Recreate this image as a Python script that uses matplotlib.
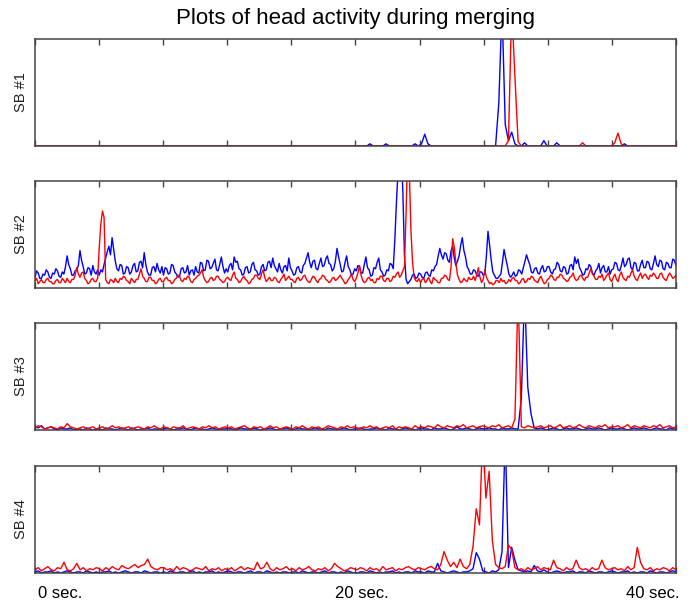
import numpy as np
import matplotlib
matplotlib.use("Agg")
import matplotlib.pyplot as plt

plt.rcParams['font.family'] = ['Liberation Sans', 'DejaVu Sans']

#------------------------------------------------------------------------------------------------------#
# data: head activity (percent of panel height) over 40 s
# SB #1, #3, #4 sampled every ~0.2 s, SB #2 every ~0.1 s

duration = 40

sb1_blue = [0, 0, 0, 0, 0, 0, 0, 0, 0, 0, 0, 0, 0, 0, 0, 0, 0, 0, 0, 0,
            0, 0, 0, 0, 0, 0, 0, 0, 0, 0, 0, 0, 0, 0, 0, 0, 0, 0, 0, 0,
            0, 0, 0, 0, 0, 0, 0, 0, 0, 0, 0, 0, 0, 0, 0, 0, 0, 0, 0, 0,
            0, 0, 0, 0, 0, 0, 0, 0, 0, 0, 0, 0, 0, 0, 0, 0, 0, 0, 0, 0,
            0, 0, 0, 0, 0, 0, 0, 0, 0, 0, 0, 0, 0, 0, 0, 0, 0, 0, 0, 0,
            0, 0, 0, 0, 2, 0, 0, 0, 0, 2, 0, 0, 0, 0, 0, 0, 0, 0, 2, 0,
            2, 11, 2, 0, 0, 0, 0, 0, 0, 0, 0, 0, 0, 0, 0, 0, 0, 0, 0, 0,
            0, 0, 0, 0, 40, 130, 20, 5, 13, 2, 0, 0, 3, 0, 0, 0, 0, 0, 5, 0,
            0, 0, 3, 0, 0, 0, 0, 0, 0, 0, 0, 0, 0, 0, 0, 0, 0, 0, 0, 0,
            0, 0, 0, 2, 0, 0, 0, 0, 0, 0, 0, 0, 0, 0, 0, 0, 0, 0, 0, 0]
sb1_red = [0, 0, 0, 0, 0, 0, 0, 0, 0, 0, 0, 0, 0, 0, 0, 0, 0, 0, 0, 0,
           0, 0, 0, 0, 0, 0, 0, 0, 0, 0, 0, 0, 0, 0, 0, 0, 0, 0, 0, 0,
           0, 0, 0, 0, 0, 0, 0, 0, 0, 0, 0, 0, 0, 0, 0, 0, 0, 0, 0, 0,
           0, 0, 0, 0, 0, 0, 0, 0, 0, 0, 0, 0, 0, 0, 0, 0, 0, 0, 0, 0,
           0, 0, 0, 0, 0, 0, 0, 0, 0, 0, 0, 0, 0, 0, 0, 0, 0, 0, 0, 0,
           0, 0, 0, 0, 0, 0, 0, 0, 0, 0, 0, 0, 0, 0, 0, 0, 0, 0, 0, 0,
           0, 0, 0, 0, 0, 0, 0, 0, 0, 0, 0, 0, 0, 0, 0, 0, 0, 0, 0, 0,
           0, 0, 0, 0, 0, 0, 0, 5, 130, 65, 4, 0, 0, 0, 0, 0, 0, 0, 0, 0,
           0, 0, 0, 0, 0, 0, 0, 0, 0, 0, 3, 0, 0, 0, 0, 0, 0, 0, 0, 0,
           3, 12, 2, 0, 0, 0, 0, 0, 0, 0, 0, 0, 0, 0, 0, 0, 0, 0, 0, 0]

sb2_blue = [10, 16, 14, 9, 9, 13, 12, 17, 15, 10, 9, 14, 13, 18, 16, 11, 10, 15, 13, 20,
            30, 22, 18, 12, 12, 16, 17, 21, 35, 26, 20, 13, 14, 19, 18, 12, 21, 15, 13, 17,
            12, 17, 15, 22, 28, 34, 39, 31, 47, 36, 25, 18, 16, 22, 21, 13, 14, 20, 19, 13,
            15, 21, 23, 15, 16, 24, 25, 19, 33, 22, 15, 12, 12, 19, 20, 15, 23, 17, 14, 20,
            12, 19, 18, 13, 14, 22, 21, 15, 13, 10, 11, 18, 19, 14, 15, 21, 12, 16, 17, 12,
            20, 15, 14, 24, 23, 16, 17, 26, 25, 18, 19, 23, 27, 17, 16, 22, 29, 20, 14, 18,
            15, 21, 23, 17, 29, 24, 25, 18, 17, 12, 13, 19, 20, 14, 15, 22, 24, 17, 16, 12,
            13, 20, 22, 16, 17, 24, 25, 19, 28, 21, 18, 15, 23, 17, 14, 20, 21, 16, 28, 19,
            16, 12, 13, 19, 20, 15, 14, 21, 23, 28, 33, 24, 19, 25, 26, 18, 17, 23, 28, 20,
            21, 27, 30, 23, 22, 16, 18, 25, 37, 29, 22, 15, 16, 24, 30, 20, 17, 12, 13, 18,
            16, 21, 20, 14, 14, 22, 29, 19, 17, 11, 12, 19, 18, 24, 28, 17, 15, 11, 12, 17,
            16, 23, 22, 18, 45, 80, 110, 125, 130, 90, 30, 8, 4, 6, 8, 12, 13, 9, 10, 14,
            13, 10, 9, 14, 15, 12, 11, 17, 16, 20, 22, 30, 37, 31, 27, 33, 32, 26, 24, 35,
            39, 28, 21, 25, 30, 40, 47, 35, 29, 20, 17, 13, 13, 17, 16, 12, 11, 15, 15, 12,
            13, 30, 53, 40, 26, 15, 12, 9, 9, 11, 13, 24, 36, 28, 21, 13, 10, 12, 15, 11,
            12, 17, 16, 13, 19, 25, 31, 26, 22, 15, 14, 18, 19, 14, 13, 18, 21, 15, 16, 20,
            20, 15, 13, 17, 18, 24, 22, 16, 15, 20, 19, 13, 14, 21, 22, 17, 29, 23, 27, 19,
            16, 12, 13, 18, 17, 22, 20, 14, 12, 16, 18, 23, 14, 19, 21, 15, 15, 20, 13, 17,
            18, 24, 23, 17, 16, 21, 28, 20, 22, 27, 28, 19, 17, 24, 23, 16, 16, 22, 26, 19,
            19, 25, 24, 18, 17, 23, 30, 22, 20, 26, 25, 18, 17, 24, 23, 19, 19, 27, 26, 21]
sb2_red = [7, 9, 4, 6, 8, 5, 5, 8, 9, 6, 6, 4, 4, 7, 8, 5, 5, 9, 7, 5,
           9, 6, 5, 8, 8, 12, 19, 13, 10, 14, 15, 9, 7, 4, 5, 8, 9, 6, 6, 9,
           38, 60, 72, 66, 8, 5, 4, 8, 7, 5, 9, 6, 5, 9, 8, 11, 10, 7, 6, 4,
           9, 7, 5, 8, 8, 13, 18, 11, 9, 6, 6, 10, 10, 7, 7, 4, 5, 8, 9, 6,
           6, 9, 10, 7, 7, 4, 5, 8, 9, 12, 11, 7, 6, 9, 8, 11, 10, 6, 5, 8,
           9, 11, 12, 14, 17, 10, 7, 5, 6, 9, 10, 7, 8, 11, 11, 8, 7, 5, 6, 9,
           10, 8, 7, 12, 15, 9, 8, 5, 6, 9, 11, 8, 7, 4, 5, 8, 9, 12, 12, 9,
           8, 13, 17, 10, 6, 8, 10, 7, 7, 10, 9, 6, 5, 8, 10, 13, 7, 9, 11, 8,
           8, 6, 5, 9, 10, 7, 8, 11, 12, 8, 6, 5, 8, 11, 10, 7, 5, 8, 9, 12,
           11, 8, 7, 5, 6, 9, 10, 7, 8, 10, 12, 9, 7, 4, 5, 8, 10, 13, 8, 6,
           9, 14, 21, 12, 7, 5, 6, 9, 10, 7, 8, 5, 5, 9, 8, 11, 11, 7, 6, 9,
           9, 6, 7, 11, 10, 13, 15, 10, 12, 16, 20, 70, 130, 110, 55, 25, 10, 7, 6, 9,
           5, 8, 9, 5, 7, 10, 6, 4, 10, 8, 7, 5, 5, 9, 9, 12, 11, 8, 7, 20,
           46, 38, 24, 12, 8, 5, 6, 9, 7, 6, 10, 8, 8, 11, 7, 12, 19, 10, 5, 8,
           17, 10, 7, 4, 5, 3, 4, 7, 7, 5, 9, 6, 7, 4, 5, 8, 6, 9, 10, 7,
           7, 4, 5, 8, 9, 5, 6, 9, 8, 11, 10, 7, 6, 5, 9, 11, 7, 4, 5, 8,
           9, 12, 11, 8, 7, 10, 10, 13, 12, 9, 8, 6, 7, 10, 11, 14, 9, 7, 8, 11,
           12, 9, 7, 10, 10, 14, 18, 13, 11, 8, 8, 11, 10, 13, 7, 9, 12, 14, 8, 6,
           10, 13, 8, 6, 12, 15, 10, 8, 7, 11, 10, 14, 17, 11, 8, 7, 11, 14, 9, 12,
           13, 10, 8, 12, 11, 14, 12, 9, 9, 13, 14, 10, 8, 7, 11, 14, 12, 9, 10, 12]

sb3_blue = [3, 2, 4, 1, 2, 3, 1, 0, 2, 1, 1, 2, 0, 1, 1, 0, 2, 1, 0, 1,
            1, 0, 2, 1, 1, 0, 1, 2, 1, 0, 2, 1, 0, 1, 1, 2, 0, 1, 1, 0,
            1, 2, 1, 0, 1, 1, 2, 1, 0, 1, 2, 1, 1, 0, 1, 2, 1, 0, 1, 1,
            2, 1, 0, 1, 2, 1, 1, 0, 2, 1, 0, 1, 1, 2, 1, 0, 1, 1, 2, 1,
            0, 1, 2, 1, 1, 0, 1, 2, 1, 1, 0, 2, 1, 1, 0, 1, 2, 1, 0, 1,
            1, 2, 1, 0, 1, 1, 2, 1, 1, 0, 2, 1, 1, 0, 1, 2, 1, 1, 0, 1,
            2, 1, 1, 0, 2, 1, 1, 2, 1, 0, 1, 3, 1, 1, 2, 1, 0, 1, 2, 1,
            1, 2, 1, 1, 0, 2, 1, 1, 2, 1, 1, 30, 130, 40, 15, 2, 1, 2, 1, 0,
            1, 2, 1, 0, 1, 2, 1, 1, 2, 1, 0, 1, 2, 1, 1, 2, 1, 0, 1, 2,
            1, 1, 2, 1, 0, 1, 2, 1, 1, 2, 1, 0, 1, 2, 1, 1, 0, 2, 1, 1]
sb3_red = [2, 4, 3, 1, 2, 3, 2, 1, 3, 2, 6, 3, 2, 1, 2, 3, 1, 2, 3, 1,
           2, 3, 1, 2, 4, 2, 3, 1, 2, 3, 1, 2, 3, 2, 1, 3, 2, 4, 2, 1,
           3, 2, 1, 3, 2, 2, 4, 1, 2, 3, 2, 1, 3, 2, 4, 2, 3, 1, 2, 3,
           2, 3, 1, 2, 3, 4, 2, 1, 3, 2, 3, 1, 2, 4, 2, 3, 1, 2, 3, 2,
           1, 3, 2, 4, 2, 1, 3, 2, 3, 1, 2, 4, 3, 2, 1, 3, 2, 4, 2, 3,
           2, 1, 3, 2, 4, 2, 3, 1, 2, 3, 2, 4, 1, 3, 2, 3, 2, 1, 4, 2,
           3, 2, 4, 3, 2, 5, 3, 2, 4, 3, 2, 4, 3, 5, 2, 3, 4, 2, 3, 4,
           3, 2, 4, 3, 5, 2, 3, 4, 2, 10, 130, 3, 2, 4, 3, 2, 3, 4, 2, 3,
           4, 2, 3, 5, 2, 3, 4, 2, 3, 5, 3, 2, 4, 3, 2, 4, 3, 5, 2, 3,
           3, 4, 2, 3, 5, 2, 4, 3, 2, 4, 3, 2, 4, 3, 5, 2, 3, 4, 2, 3]

sb4_blue = [1, 2, 0, 1, 1, 2, 0, 1, 0, 1, 2, 1, 0, 1, 1, 0, 2, 1, 0, 1,
            0, 1, 1, 2, 0, 1, 0, 1, 2, 1, 0, 1, 1, 0, 2, 1, 0, 1, 1, 0,
            1, 0, 2, 1, 0, 1, 1, 0, 1, 2, 0, 1, 0, 1, 1, 2, 0, 1, 0, 1,
            2, 1, 0, 1, 1, 0, 1, 2, 0, 1, 1, 0, 2, 1, 0, 1, 0, 1, 1, 0,
            1, 1, 0, 2, 1, 0, 1, 1, 0, 1, 2, 0, 1, 1, 0, 1, 0, 2, 1, 0,
            0, 1, 1, 0, 2, 1, 0, 1, 0, 1, 1, 2, 0, 1, 0, 1, 1, 0, 2, 1,
            1, 0, 2, 1, 1, 9, 2, 1, 0, 1, 2, 1, 0, 1, 1, 2, 4, 19, 13, 2,
            1, 0, 2, 1, 3, 20, 130, 5, 24, 12, 3, 2, 1, 2, 1, 7, 2, 1, 3, 1,
            0, 1, 2, 1, 0, 1, 1, 2, 0, 1, 1, 0, 2, 1, 0, 1, 1, 0, 1, 2,
            1, 0, 1, 1, 2, 0, 1, 0, 1, 1, 0, 2, 1, 0, 1, 1, 0, 1, 2, 1]
sb4_red = [3, 5, 2, 4, 6, 3, 2, 5, 4, 10, 3, 2, 4, 9, 3, 5, 2, 4, 3, 5,
           4, 2, 5, 3, 6, 4, 3, 7, 5, 4, 6, 8, 5, 7, 8, 13, 6, 4, 3, 5,
           5, 3, 4, 2, 6, 3, 5, 4, 2, 3, 5, 4, 3, 6, 2, 4, 3, 5, 2, 4,
           3, 5, 2, 4, 6, 3, 5, 4, 3, 10, 4, 5, 10, 4, 2, 5, 3, 4, 6, 3,
           4, 2, 5, 3, 4, 6, 3, 2, 4, 3, 5, 2, 4, 9, 6, 4, 2, 3, 5, 4,
           3, 5, 4, 2, 5, 3, 4, 2, 6, 3, 4, 5, 2, 4, 3, 5, 6, 4, 3, 5,
           4, 3, 5, 6, 4, 3, 8, 20, 12, 6, 10, 5, 13, 6, 4, 8, 25, 60, 45, 130,
           70, 95, 30, 8, 5, 4, 6, 26, 22, 5, 3, 4, 2, 5, 3, 4, 6, 3, 5, 4,
           3, 12, 5, 4, 2, 5, 3, 4, 12, 5, 3, 4, 2, 5, 3, 4, 12, 5, 3, 4,
           5, 3, 4, 2, 6, 3, 5, 24, 10, 4, 3, 5, 2, 4, 3, 5, 4, 2, 5, 3]

panel_labels = ["SB #1", "SB #2", "SB #3", "SB #4"]
time_labels = ["0 sec.", "20 sec.", "40 sec."]
time_label_pos = [0.2, 20.4, 40.2]

#------------------------------------------------------------------------------------------------------#
# figure

fig = plt.figure(figsize=(6.94, 6.01), dpi=100)
fig.text(0.512, 0.969, "Plots of head activity during merging", ha='center', va='center', fontsize=16)

series = [(sb1_blue, sb1_red), (sb2_blue, sb2_red), (sb3_blue, sb3_red), (sb4_blue, sb4_red)]
panel_bottoms = [0.7571, 0.5208, 0.2845, 0.0466]
frame_color = '#444444'

axes = []
for k, (blue, red) in enumerate(series):
    ax = fig.add_axes([0.0504, panel_bottoms[k], 0.9236, 0.178])
    ax.plot(np.linspace(0, duration, len(blue)), blue, color=(0, 0, 1), lw=1.0)
    ax.plot(np.linspace(0, duration, len(red)), red, color=(1, 0, 0), lw=1.0)

    ax.set_xlim(0, duration)
    ax.set_ylim(0, 100)
    ax.set_xticks(np.arange(0, duration + 1, 4))
    ax.set_xticklabels([])
    ax.set_yticks([])
    ax.tick_params(axis='x', direction='in', top=True, bottom=True, length=4, width=1, color=frame_color)
    for sp in ax.spines.values():
        sp.set_color(frame_color)
        sp.set_linewidth(1.1)

    ax.set_ylabel(panel_labels[k], fontsize=10.5, labelpad=5, color='#222222')
    axes.append(ax)

# time labels under the last panel
bottom_ax = axes[-1]
for pos, lab, ha in zip(time_label_pos, time_labels, ['left', 'center', 'right']):
    bottom_ax.text(pos, -0.19, lab, transform=bottom_ax.get_xaxis_transform(), ha=ha, va='center', fontsize=12)

fig.savefig("out.png", dpi=100)
